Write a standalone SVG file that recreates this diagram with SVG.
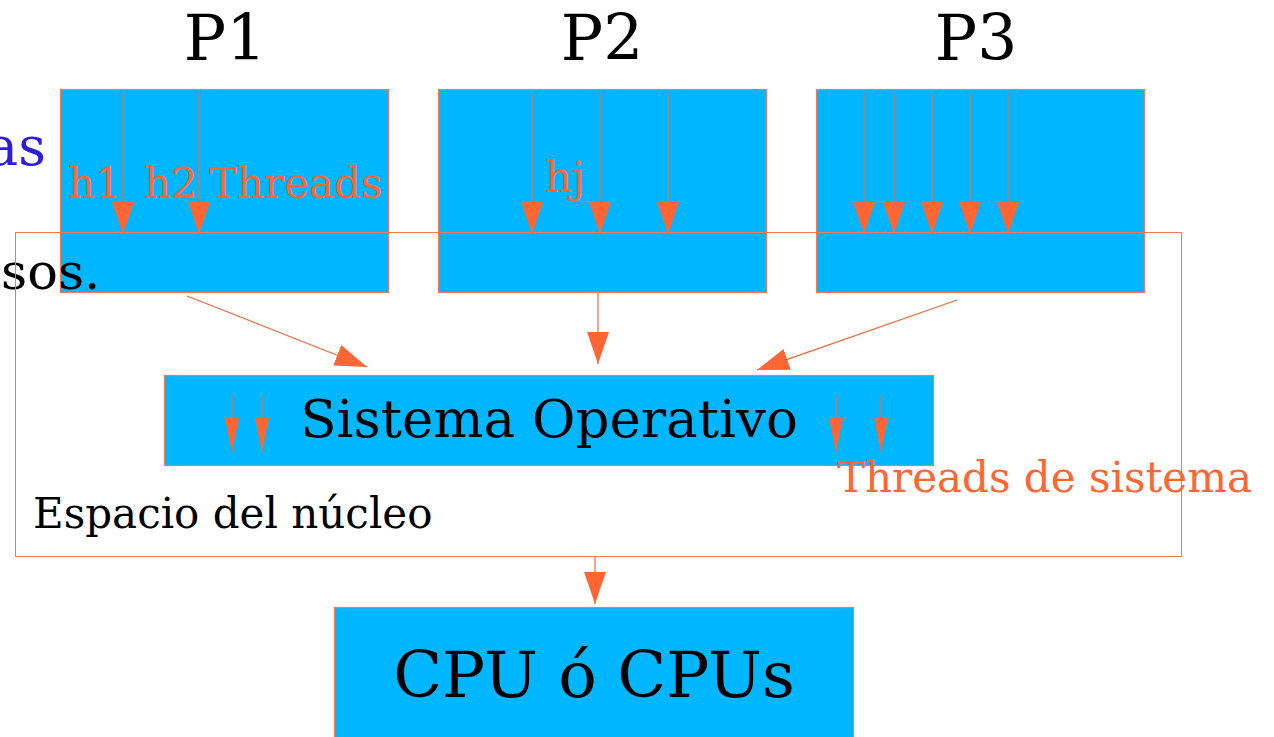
<svg xmlns="http://www.w3.org/2000/svg" width="1274" height="737" viewBox="0 0 1274 737">
  <style>
    .box { fill: #00b7ff; stroke: #f47a56; stroke-width: 1.2; }
    .frame { fill: none; stroke: #f47a56; stroke-width: 1; }
    .ln { stroke: #f06a3e; stroke-width: 1.2; fill: none; }
    .head { fill: #ff6633; }
    .t { font-family: "DejaVu Serif", "Liberation Serif", serif; }
    .lbl { fill: #ff6633; font-size: 42px; }
  </style>
  <defs>
    <!-- arrowheads point along +x; orient="auto" turns them with the line -->
    <marker id="ah" viewBox="0 0 32 22" refX="32" refY="11" markerWidth="32" markerHeight="22" markerUnits="userSpaceOnUse" orient="auto">
      <path d="M0,0 L32,11 L0,22 Z" class="head"/>
    </marker>
    <marker id="ahs" viewBox="0 0 34 14" refX="34" refY="7" markerWidth="34" markerHeight="14" markerUnits="userSpaceOnUse" orient="auto">
      <path d="M0,0 L34,7 L0,14 Z" class="head"/>
    </marker>
  </defs>

  <!-- partial captions at the left edge -->
  <text class="t" x="46" y="165" font-size="54" fill="#2a1fd6" text-anchor="end">as</text>

  <!-- process titles -->
  <text class="t" x="225" y="60" font-size="63" text-anchor="middle">P1</text>
  <text class="t" x="602" y="60" font-size="63" text-anchor="middle">P2</text>
  <text class="t" x="976" y="60" font-size="63" text-anchor="middle">P3</text>

  <!-- processes -->
  <g id="p1">
    <rect class="box" x="60.5" y="89.5" width="328" height="203"/>
  </g>
  <g id="p2">
    <rect class="box" x="438.5" y="89.5" width="328" height="203"/>
  </g>
  <g id="p3">
    <rect class="box" x="816.5" y="89.5" width="328" height="203"/>
  </g>

  <text class="t" x="1" y="289" font-size="51" fill="#000">sos.</text>

  <!-- kernel space frame -->
  <g id="kernel">
    <rect class="frame" x="15.5" y="232.5" width="1166" height="324"/>
    <text class="t" x="33" y="528" font-size="42" fill="#000">Espacio del núcleo</text>
  </g>

  <!-- operating system -->
  <g id="os">
    <rect class="box" x="164.5" y="375.5" width="769" height="90"/>
    <text class="t" x="549" y="437" font-size="53" text-anchor="middle" fill="#000">Sistema Operativo</text>
  </g>

  <!-- CPU -->
  <g id="cpu">
    <rect class="box" x="334.5" y="607.5" width="519" height="140"/>
    <text class="t" x="594" y="697" font-size="64" text-anchor="middle" fill="#000">CPU ó CPUs</text>
  </g>

  <!-- user threads -->
  <g id="threads">
    <text class="t lbl" x="68" y="198">h1</text>
    <text class="t lbl" x="144" y="198">h2</text>
    <text class="t lbl" x="209" y="198">Threads</text>
    <text class="t lbl" x="545" y="192">hj</text>
    <line class="ln" x1="123" y1="93" x2="123" y2="234" marker-end="url(#ah)"/>
    <line class="ln" x1="199" y1="93" x2="199" y2="234" marker-end="url(#ah)"/>
    <line class="ln" x1="532" y1="93" x2="532" y2="234" marker-end="url(#ah)"/>
    <line class="ln" x1="600" y1="93" x2="600" y2="234" marker-end="url(#ah)"/>
    <line class="ln" x1="668" y1="93" x2="668" y2="234" marker-end="url(#ah)"/>
    <line class="ln" x1="864" y1="93" x2="864" y2="234" marker-end="url(#ah)"/>
    <line class="ln" x1="894" y1="93" x2="894" y2="234" marker-end="url(#ah)"/>
    <line class="ln" x1="932" y1="93" x2="932" y2="234" marker-end="url(#ah)"/>
    <line class="ln" x1="970" y1="93" x2="970" y2="234" marker-end="url(#ah)"/>
    <line class="ln" x1="1008" y1="93" x2="1008" y2="234" marker-end="url(#ah)"/>
  </g>

  <!-- system threads -->
  <g id="sys-threads">
    <line class="ln" x1="232" y1="395" x2="232" y2="452" marker-end="url(#ahs)"/>
    <line class="ln" x1="262" y1="395" x2="262" y2="452" marker-end="url(#ahs)"/>
    <line class="ln" x1="836" y1="395" x2="836" y2="452" marker-end="url(#ahs)"/>
    <line class="ln" x1="881" y1="395" x2="881" y2="452" marker-end="url(#ahs)"/>
    <text class="t lbl" x="837" y="492">Threads de sistema</text>
  </g>

  <!-- connectors -->
  <g id="connectors">
    <line class="ln" x1="187" y1="296" x2="367" y2="367" marker-end="url(#ah)"/>
    <line class="ln" x1="598" y1="293" x2="598" y2="364" marker-end="url(#ah)"/>
    <line class="ln" x1="957" y1="300" x2="757" y2="370" marker-end="url(#ah)"/>
    <line class="ln" x1="595" y1="557" x2="595" y2="604" marker-end="url(#ah)"/>
  </g>
</svg>
